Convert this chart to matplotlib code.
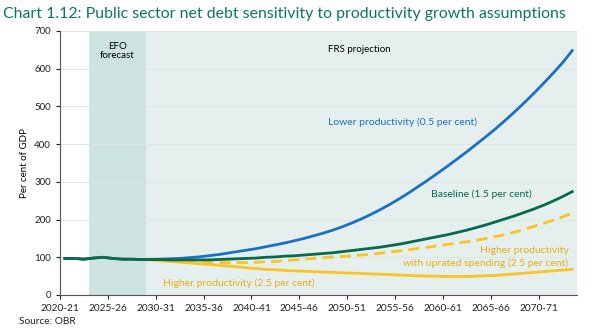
import numpy as np
import matplotlib
matplotlib.use("Agg")
import matplotlib.pyplot as plt

plt.rcParams['font.family'] = ['Lato', 'DejaVu Sans']

# financial years 2020-21 to 2073-74
years = [f"{y}-{str(y + 1)[-2:]}" for y in range(2020, 2074)]

# public sector net debt, per cent of GDP
outturn = [97, 97, 95, 98, 100, 97, 95, 95, 94, 94]
lower = outturn + [95, 96, 97, 99, 101, 104, 107, 111, 115, 119,
                   123, 128, 133, 138, 144, 150, 157, 164, 172, 181,
                   191, 202, 214, 227, 241, 256, 272, 289, 306, 324,
                   342, 361, 380, 400, 420, 441, 463, 486, 510, 535,
                   561, 588, 616, 648]
baseline = outturn + [94, 93, 93, 93, 93, 93, 94, 95, 96, 97,
                      98, 100, 101, 103, 104, 106, 108, 110, 112, 115,
                      118, 121, 124, 127, 131, 135, 140, 145, 150, 155,
                      160, 166, 172, 179, 186, 194, 202, 210, 219, 228,
                      238, 249, 261, 274]
uprated = outturn + [92, 90, 88, 87, 86, 86, 86, 86, 86, 86,
                     87, 88, 89, 91, 93, 95, 97, 99, 101, 102,
                     104, 106, 108, 111, 114, 117, 120, 124, 127, 131,
                     134, 138, 141, 145, 150, 155, 160, 167, 174, 182,
                     190, 198, 207, 217]
higher = outturn[:9] + [93, 91, 89, 87, 85, 83, 81, 79, 77, 75, 72,
                        70, 68, 67, 65, 64, 63, 62, 61, 60, 59,
                        58, 57, 56, 55, 54, 53, 52, 51, 50, 50,
                        49, 49, 49, 50, 51, 52, 54, 56, 58, 60,
                        62, 64, 66, 68]

x = np.arange(len(years)) + 0.5

blue = '#1a70c4'
green = '#08694f'
yellow = '#fbc323'
label_yellow = '#e8ae14'
teal = '#0b7565'

fig = plt.figure(figsize=(6.01, 3.33), dpi=100)
ax = fig.add_axes([60 / 601, 1 - 295 / 333, 517 / 601, 264 / 333])

# forecast and projection periods
ax.axvspan(3, 9, color='#cce3e1', zorder=0, lw=0)
ax.axvspan(9, 54, color='#e5efee', zorder=0, lw=0)

for v in range(100, 701, 100):
    ax.axhline(v, color='#dbe6e5', lw=0.7, zorder=1)

ax.plot(x, uprated, color=yellow, lw=2, dashes=(4, 2.2), zorder=3)
ax.plot(x, higher, color=yellow, lw=2, zorder=3)
ax.plot(x, lower, color=blue, lw=2, zorder=4)
ax.plot(x, baseline, color=green, lw=2, zorder=5)

ax.set_xlim(0, 54)
ax.set_ylim(0, 700)
ax.set_yticks(range(0, 701, 100))
ax.set_xticks(range(0, 54, 5))
ax.set_xticklabels(years[::5])
ax.tick_params(axis='both', labelsize=7, colors='#222222', length=3, width=0.8)
ax.tick_params(axis='x', labelsize=7.3)
for s in ['top', 'right']:
    ax.spines[s].set_visible(False)
for s in ['left', 'bottom']:
    ax.spines[s].set_color('#555555')
    ax.spines[s].set_linewidth(0.8)

ax.set_ylabel('Per cent of GDP', fontsize=7, labelpad=4)

ax.text(6, 660, 'EFO', ha='center', va='center', fontsize=7)
ax.text(6, 634, 'forecast', ha='center', va='center', fontsize=7)
ax.text(28, 650, 'FRS projection', ha='left', va='center', fontsize=7)
ax.text(35.8, 457, 'Lower productivity (0.5 per cent)', ha='center',
        va='center', fontsize=7.5, color=blue)
ax.text(44, 268, 'Baseline (1.5 per cent)', ha='center', va='center',
        fontsize=7.5, color=green)
ax.text(53.1, 117, 'Higher productivity', ha='right', va='center',
        fontsize=7.5, color=label_yellow)
ax.text(53.1, 83, 'with uprated spending (2.5 per cent)', ha='right',
        va='center', fontsize=7.5, color=label_yellow)
ax.text(18.7, 32, 'Higher productivity (2.5 per cent)', ha='center',
        va='center', fontsize=7.5, color=label_yellow)

fig.text(3 / 601, 1 - 14 / 333,
         'Chart 1.12: Public sector net debt sensitivity to productivity growth assumptions',
         fontsize=11.4, color=teal, va='center', ha='left')
fig.text(19 / 601, 1 - 321 / 333, 'Source: OBR', fontsize=7.3, va='center',
         color='#222222')

fig.savefig('out.png', dpi=100)
